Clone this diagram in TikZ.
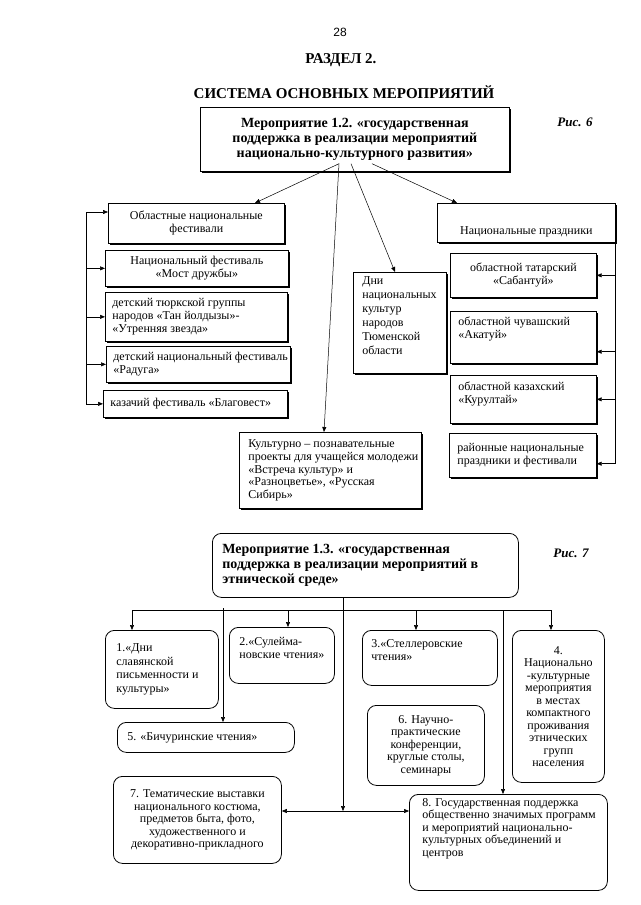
\documentclass[tikz,border=0pt]{standalone}
\usepackage{fontspec}
\setmainfont{Liberation Serif}
\newfontfamily\arialf{Liberation Sans}
\usetikzlibrary{arrows.meta,shadows,calc}
\newcommand\bx[9]{\node[#1,anchor=north west,inner xsep=#7pt,inner ysep=0pt] (#2) at (#3,#4) {\parbox[c][#6pt][#8]{\dimexpr#5pt-#7pt-#7pt\relax}{#9}};}
\begin{document}
\begin{tikzpicture}[x=1pt,y=-1pt,
 sq/.style={draw,line width=0.7pt,fill=white,font=\fontsize{12}{13}\selectfont,
   drop shadow={shadow xshift=1.2pt,shadow yshift=-1.2pt,fill=black,opacity=1}},
 rb/.style={draw,line width=0.8pt,fill=white,rounded corners=9pt,font=\fontsize{12}{13}\selectfont},
 arr/.style={line width=0.5pt,-{Triangle[length=5pt,width=4pt]}},
 ln/.style={line width=0.5pt},
 ttl/.style={font=\bfseries\fontsize{15}{17}\selectfont},
 ris/.style={font=\bfseries\itshape\fontsize{13}{15}\selectfont}]
\fill[white] (0,0) rectangle (640,905);
\useasboundingbox (0,0) rectangle (640,905);

% headings
\node[font=\arialf\fontsize{12}{14}\selectfont] (pg) at (340,32) {28};
\node[ttl] (rz) at (341,60) {РАЗДЕЛ 2.};
\node[ttl] (sys) at (344,92) {СИСТЕМА ОСНОВНЫХ МЕРОПРИЯТИЙ};
\node[ris] (r6) at (575,122) {Рис. 6};
\node[ris] (r7) at (571,553) {Рис. 7};

% ---------- diagram 1.2 ----------
\bx{sq}{t12}{200}{107}{309}{64}{6}{c}{\centering\bfseries\fontsize{14}{15.3}\selectfont
 \mbox{Мероприятие 1.2. «государственная}\\\mbox{поддержка в реализации мероприятий}\\\mbox{национально-культурного развития»}}
\bx{sq}{fest}{108}{203}{176}{40}{6}{c}{\centering\mbox{Областные национальные}\\фестивали}
\bx{sq}{most}{105}{250}{183}{36}{6}{c}{\centering\mbox{Национальный фестиваль}\\«Мост дружбы»}
\bx{sq}{turk}{105}{292}{182}{49}{7}{c}{\raggedright\mbox{детский тюркской группы}\\\mbox{народов «Тан йолдызы»-}\\\mbox{«Утренняя звезда»}}
\bx{sq}{rad}{106}{346}{184}{36}{7}{c}{\raggedright\mbox{детский национальный фестиваль}\\«Радуга»}
\bx{sq}{blag}{103}{390}{184}{27}{7}{c}{\raggedright\mbox{казачий фестиваль «Благовест»}}
\bx{sq}{np}{437}{203}{178}{39}{6}{b}{\centering\mbox{Национальные праздники}\par\vspace{5pt}}
\bx{sq}{sab}{450}{253}{146}{44}{6}{c}{\centering\mbox{областной татарский}\\«Сабантуй»}
\bx{sq}{akat}{450}{311}{146}{52}{8}{t}{\raggedright\vspace*{6pt}\mbox{областной чувашский}\\«Акатуй»}
\bx{sq}{kur}{450}{375}{146}{48}{8}{t}{\raggedright\vspace*{7pt}\mbox{областной казахский}\\«Курултай»}
\bx{sq}{raion}{449}{433}{147}{44}{8}{c}{\raggedright\mbox{районные национальные}\\\mbox{праздники и фестивали}}
\bx{sq}{dni}{353}{272}{93}{101}{9}{t}{\raggedright\fontsize{12}{14}\selectfont\vspace*{4pt}Дни\\национальных\\культур\\народов\\Тюменской\\области}
\bx{sq}{kult}{239}{432}{182}{76}{9}{c}{\raggedright\fontsize{12}{12.7}\selectfont\mbox{Культурно – познавательные}\\\mbox{проекты для учащейся молодежи}\\\mbox{«Встреча культур» и}\\\mbox{«Разноцветье», «Русская}\\Сибирь»}

% connectors from the top box
\coordinate (s1) at ($(t12.south west)+(139,-8)$);
\coordinate (s3) at ($(t12.south west)+(151,-8)$);
\coordinate (s4) at ($(t12.south west)+(172,-8)$);
\draw[arr] (s1) -- ($(fest.north west)+(147,0)$);
\draw[arr] (s1) -- ($(kult.north west)+(85,0)$);
\draw[arr] (s3) -- ($(dni.north west)+(42,0)$);
\draw[arr] (s4) -- ($(np.north west)+(20,0)$);

% left bracket
\coordinate (lbx) at (86,212);
\coordinate (fa) at ($(fest.north west)+(0,9)$);
\draw[ln] (fa -| lbx) -- (blag.west -| lbx);
\draw[arr] (fa -| lbx) -- (fa);
\draw[arr] (most.west -| lbx) -- (most.west);
\draw[arr] (turk.west -| lbx) -- (turk.west);
\draw[arr] (rad.west -| lbx) -- (rad.west);
\draw[arr] (blag.west -| lbx) -- (blag.west);

% right bracket
\coordinate (aa) at ($(akat.south east)+(0,-12)$);
\coordinate (ra) at ($(raion.south east)+(0,-14)$);
\draw[ln] (np.south east) -- (ra -| np.east);
\draw[arr] (sab.east -| np.east) -- (sab.east);
\draw[arr] (aa -| np.east) -- (aa);
\draw[arr] (kur.east -| np.east) -- (kur.east);
\draw[arr] (ra -| np.east) -- (ra);

% ---------- diagram 1.3 ----------
\bx{rb}{m13}{212}{533}{306}{64}{10}{c}{\raggedright\bfseries\fontsize{14}{15.3}\selectfont
 \mbox{Мероприятие 1.3. «государственная}\\\mbox{поддержка в реализации мероприятий в}\\\mbox{этнической среде»}}
\bx{rb}{b1}{105}{630}{113}{78}{11}{c}{\raggedright\fontsize{12}{13.5}\selectfont 1.«Дни\\славянской\\\mbox{письменности и}\\культуры»}
\bx{rb}{b2}{229}{627}{105}{56}{10}{t}{\raggedright\vspace*{10pt}2.«Сулейма-\\\mbox{новские чтения»}}
\bx{rb}{b3}{362}{630}{135}{55}{9}{t}{\raggedright\vspace*{9pt}\mbox{3.«Стеллеровские}\\чтения»}
\bx{rb}{b4}{512}{630}{92}{152}{3}{c}{\centering\fontsize{12}{12.5}\selectfont 4.\\Национально\\-культурные\\мероприятия\\в местах\\компактного\\проживания\\этнических\\групп\\населения}
\bx{rb}{b5}{117}{722}{177}{30}{10}{c}{\raggedright\mbox{5. «Бичуринские чтения»}}
\bx{rb}{b6}{367}{705}{117}{80}{5}{c}{\centering\fontsize{12}{12.5}\selectfont 6. Научно-\\практические\\конференции,\\\mbox{круглые столы,}\\семинары}
\bx{rb}{b7}{113}{776}{168}{87}{4}{c}{\centering\fontsize{12}{12.5}\selectfont\mbox{7. Тематические выставки}\\\mbox{национального костюма,}\\\mbox{предметов быта, фото,}\\\mbox{художественного и}\\\mbox{декоративно-прикладного}}
\bx{rb}{b8}{409}{794}{198}{96}{13}{t}{\raggedright\fontsize{12}{12.5}\selectfont\vspace*{4pt}\mbox{8. Государственная поддержка}\\\mbox{общественно значимых программ}\\\mbox{и мероприятий национально-}\\\mbox{культурных объединений и}\\центров}

% connectors
\coordinate (busL) at (132,610);
\coordinate (busR) at (551,610);
\coordinate (d5) at (223,608);
\coordinate (d2) at (288,610);
\coordinate (d3) at (416,610);
\coordinate (d8) at (503,610);
\draw[ln] (busL) -- (busR);
\draw[arr] (busL) -- (busL |- b1.north);
\draw[arr] (d5) -- (d5 |- b5.north);
\draw[arr] (d2) -- (d2 |- b2.north);
\draw[arr] (d3) -- (d3 |- b3.north);
\draw[arr] (d8) -- (d8 |- b8.north);
\draw[arr] (busR) -- (busR |- b4.north);
\coordinate (j) at (343,811);
\draw[arr] (j |- m13.south) -- (j);
\draw[arr] (j) -- (j -| b7.east);
\draw[arr] (j) -- (j -| b8.west);
\end{tikzpicture}
\end{document}
